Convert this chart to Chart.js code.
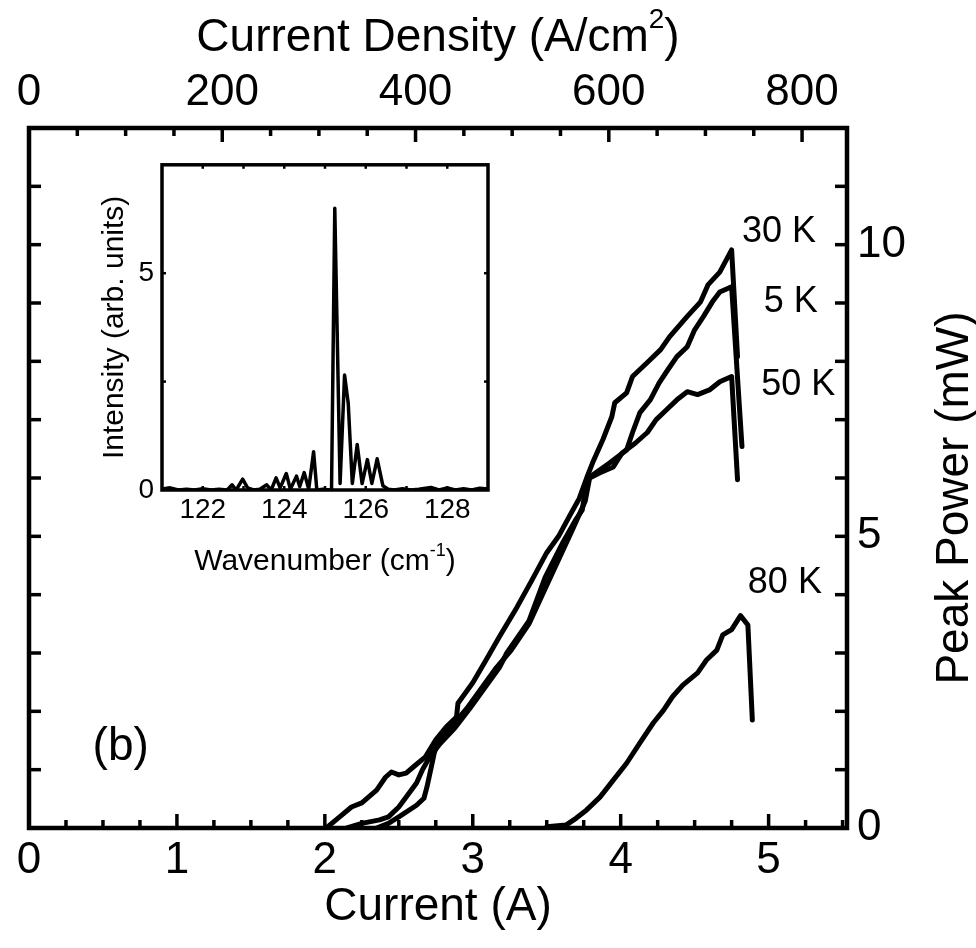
<!DOCTYPE html>
<html>
<head>
<meta charset="utf-8">
<script src="https://cdn.jsdelivr.net/npm/chart.js@4.4.1/dist/chart.umd.min.js"></script>
<style>
  html, body { margin: 0; padding: 0; background: #fff; }
  #wrap { position: relative; width: 976px; height: 948px; }
  #main { position: absolute; left: 0; top: 0; }
  #inset { position: absolute; left: 90px; top: 140px; }
</style>
</head>
<body>
<div id="wrap">
  <canvas id="main" width="976" height="948"></canvas>
  <canvas id="inset" width="410" height="450"></canvas>
</div>
<script>
// ---- data: peak power (mW) vs current (A) ----
const cur5K = [2.15,2.25,2.37,2.43,2.50,2.55,2.62,2.66,2.71,2.78,2.88,2.98,3.08,3.18,3.23,3.38,3.49,3.61,3.70,3.74,3.77,3.81,3.92,4.04,4.08,4.13,4.20,4.26,4.32,4.38,4.45,4.50,4.56,4.62,4.67,4.75,4.82];
const pow5K = [0,0.08,0.14,0.19,0.36,0.53,0.77,1.0,1.22,1.45,1.72,2.05,2.40,2.75,3.0,3.55,4.30,4.90,5.30,5.45,5.95,6.05,6.25,6.48,6.78,7.12,7.34,7.63,7.86,8.08,8.25,8.54,8.77,9.02,9.19,9.28,6.54];

const cur30K = [2.01,2.10,2.18,2.25,2.35,2.41,2.45,2.50,2.55,2.60,2.68,2.75,2.82,2.89,2.90,3.00,3.09,3.18,3.30,3.40,3.50,3.58,3.65,3.72,3.77,3.81,3.88,3.94,3.96,4.04,4.08,4.18,4.27,4.33,4.45,4.54,4.59,4.67,4.75,4.79];
const pow30K = [0,0.19,0.36,0.43,0.65,0.87,0.96,0.91,0.94,1.05,1.22,1.51,1.73,1.90,2.14,2.49,2.88,3.28,3.79,4.25,4.72,5.0,5.33,5.65,6.0,6.26,6.66,7.05,7.29,7.46,7.74,7.98,8.20,8.42,8.77,9.02,9.31,9.53,9.91,8.08];

const cur50K = [2.35,2.43,2.50,2.62,2.67,2.69,2.72,2.74,2.77,2.86,2.96,3.06,3.16,3.26,3.38,3.48,3.58,3.68,3.76,3.79,3.86,3.95,4.01,4.10,4.18,4.24,4.31,4.38,4.45,4.52,4.60,4.67,4.75,4.79];
const pow50K = [0,0.08,0.19,0.39,0.51,0.70,1.05,1.29,1.51,1.75,2.05,2.40,2.75,3.05,3.50,4.05,4.60,5.15,5.60,6.0,6.09,6.19,6.43,6.60,6.78,7.00,7.17,7.34,7.48,7.43,7.51,7.65,7.74,5.97];

const cur80K = [3.50,3.63,3.70,3.77,3.86,3.95,4.04,4.13,4.22,4.29,4.35,4.42,4.52,4.58,4.65,4.69,4.75,4.81,4.86,4.89];
const pow80K = [0.02,0.05,0.17,0.31,0.53,0.82,1.11,1.46,1.80,2.02,2.25,2.45,2.66,2.88,3.05,3.31,3.40,3.64,3.48,1.85];

// ---- inset: emission spectrum ----
const wavenumber = [121.0,121.2,121.4,121.6,121.8,122.0,122.2,122.4,122.6,122.72,122.82,122.98,123.1,123.25,123.4,123.57,123.68,123.8,123.9,124.05,124.15,124.3,124.38,124.49,124.6,124.72,124.8,124.95,125.1,125.16,125.24,125.37,125.48,125.57,125.67,125.79,125.91,126.04,126.15,126.28,126.42,126.55,126.7,126.9,127.1,127.3,127.6,127.8,128.0,128.2,128.4,128.6,128.8,129.0];
const intensity  = [0.02,0.05,0.0,0.02,0.0,0.03,0.0,0.02,0.0,0.12,0.0,0.25,0.05,0.0,0.02,0.12,0.0,0.28,0.05,0.38,0.02,0.32,0.08,0.40,0.02,0.88,0.0,0.02,0.0,0.0,6.5,0.15,2.65,2.0,0.15,1.05,0.15,0.70,0.15,0.72,0.10,0.02,0.0,0.03,0.0,0.02,0.06,0.0,0.05,0.0,0.03,0.0,0.04,0.02];

// ---- tick labels ----
const currentTicks = [0, 1, 2, 3, 4, 5];
const densityTicks = [0, 200, 400, 600, 800];
const powerTicks   = [0, 5, 10];
const waveTicks    = [122, 124, 126, 128];
const intenTicks   = [0, 5];

// curve labels (text, anchored in data units)
const curveLabels = [
  { text: '30 K', x: 5.07, y: 10.22 },
  { text: '5 K',  x: 5.15, y: 9.02 },
  { text: '50 K', x: 5.20, y: 7.59 },
  { text: '80 K', x: 5.11, y: 4.20 }
];

const FONT = "'Liberation Sans', Arial, sans-serif";

const pts = (xs, ys) => xs.map((x, i) => ({ x, y: ys[i] }));

const lineDs = (label, xs, ys, w) => ({
  label,
  data: pts(xs, ys),
  showLine: true,
  borderColor: '#000',
  borderWidth: w,
  pointRadius: 0,
  tension: 0,
  fill: false,
  borderJoinStyle: 'round',
  borderCapStyle: 'round'
});

// text with superscript parts: [[text, isSup], ...]
const drawParts = (ctx, parts, cx, cy, size) => {
  const supSize = Math.round(size * 0.6);
  let total = 0;
  parts.forEach(([t, sup]) => {
    ctx.font = `${sup ? supSize : size}px ${FONT}`;
    total += ctx.measureText(t).width;
  });
  let x = cx - total / 2;
  ctx.textAlign = 'left';
  ctx.textBaseline = 'middle';
  parts.forEach(([t, sup]) => {
    ctx.font = `${sup ? supSize : size}px ${FONT}`;
    ctx.fillText(t, x, sup ? cy - size * 0.38 : cy);
    x += ctx.measureText(t).width;
  });
};

// inward tick marks along one edge of the chart area
const drawTicks = (ctx, scale, side, a, lenFn) => {
  scale.ticks.forEach(t => {
    const p = scale.getPixelForValue(t.value);
    const len = lenFn(t.value);
    ctx.beginPath();
    if (side === 'bottom') { if (p <= a.left + 1 || p >= a.right - 1) return; ctx.moveTo(p, a.bottom); ctx.lineTo(p, a.bottom - len); }
    if (side === 'top')    { if (p <= a.left + 1 || p >= a.right - 1) return; ctx.moveTo(p, a.top); ctx.lineTo(p, a.top + len); }
    if (side === 'left')   { if (p <= a.top + 1 || p >= a.bottom - 1) return; ctx.moveTo(a.left, p); ctx.lineTo(a.left + len, p); }
    if (side === 'right')  { if (p <= a.top + 1 || p >= a.bottom - 1) return; ctx.moveTo(a.right, p); ctx.lineTo(a.right - len, p); }
    ctx.stroke();
  });
};

// ---- main chart ----
const mainDecor = {
  id: 'mainDecor',
  afterDraw(chart) {
    const { ctx, chartArea: a, scales } = chart;
    ctx.save();
    ctx.strokeStyle = '#000';
    ctx.fillStyle = '#000';
    ctx.lineCap = 'butt';
    ctx.lineWidth = 3.5;
    drawTicks(ctx, scales.x, 'bottom', a, v => Number.isInteger(v) ? 14 : 8);
    drawTicks(ctx, scales.x2, 'top', a, v => v % 200 === 0 ? 14 : 8);
    drawTicks(ctx, scales.y, 'left', a, () => 12);
    drawTicks(ctx, scales.y2, 'right', a, () => 12);
    ctx.lineWidth = 4.5;
    ctx.strokeRect(a.left, a.top, a.right - a.left, a.bottom - a.top);

    // axis titles
    drawParts(ctx, [['Current Density (A/cm', false], ['2', true], [')', false]], (a.left + a.right) / 2, 38, 46);
    drawParts(ctx, [['Current (A)', false]], (a.left + a.right) / 2, 907, 46);
    ctx.save();
    ctx.translate(955, 498);
    ctx.rotate(-Math.PI / 2);
    drawParts(ctx, [['Peak Power (mW)', false]], 0, 0, 46);
    ctx.restore();

    // curve labels
    ctx.font = `36px ${FONT}`;
    ctx.textAlign = 'center';
    ctx.textBaseline = 'middle';
    curveLabels.forEach(l => {
      ctx.fillText(l.text, scales.x.getPixelForValue(l.x), scales.y.getPixelForValue(l.y));
    });
    ctx.font = `46px ${FONT}`;
    ctx.fillText('(b)', scales.x.getPixelForValue(0.62), scales.y.getPixelForValue(1.38));
    ctx.restore();
  }
};

const tickFont = { family: FONT, size: 44 };

new Chart(document.getElementById('main'), {
  type: 'scatter',
  data: {
    datasets: [
      lineDs('5 K', cur5K, pow5K, 5),
      lineDs('30 K', cur30K, pow30K, 5),
      lineDs('50 K', cur50K, pow50K, 5),
      lineDs('80 K', cur80K, pow80K, 5)
    ]
  },
  options: {
    responsive: false,
    animation: false,
    devicePixelRatio: 1,
    layout: { padding: 0 },
    plugins: { legend: { display: false }, tooltip: { enabled: false } },
    scales: {
      x: {
        type: 'linear', position: 'bottom', min: 0, max: 5.53,
        grid: { display: false, drawTicks: false }, border: { display: false },
        ticks: {
          stepSize: 0.25, autoSkip: false, maxRotation: 0, minRotation: 0, includeBounds: false,
          padding: 6, color: '#000', font: tickFont,
          callback: v => currentTicks.includes(v) ? String(v) : ''
        },
        afterFit: s => { s.height = 120; }
      },
      x2: {
        type: 'linear', position: 'top', min: 0, max: 846.5,
        grid: { display: false, drawTicks: false }, border: { display: false },
        ticks: {
          stepSize: 50, autoSkip: false, maxRotation: 0, minRotation: 0, includeBounds: false,
          padding: 9, color: '#000', font: tickFont,
          callback: v => densityTicks.includes(v) ? String(v) : ''
        },
        afterFit: s => { s.height = 128; }
      },
      y: {
        type: 'linear', position: 'left', min: 0, max: 12,
        grid: { display: false, drawTicks: false }, border: { display: false },
        ticks: { stepSize: 1, display: false, autoSkip: false, includeBounds: false },
        afterFit: s => { s.width = 29; }
      },
      y2: {
        type: 'linear', position: 'right', min: 0, max: 12,
        grid: { display: false, drawTicks: false }, border: { display: false },
        ticks: {
          stepSize: 1, autoSkip: false, includeBounds: false,
          padding: 10, color: '#000', font: tickFont,
          callback: v => powerTicks.includes(v) ? String(v) : ''
        },
        afterFit: s => { s.width = 129; }
      }
    }
  },
  plugins: [mainDecor]
});

// ---- inset chart ----
const insetDecor = {
  id: 'insetDecor',
  afterDraw(chart) {
    const { ctx, chartArea: a, scales } = chart;
    ctx.save();
    ctx.strokeStyle = '#000';
    ctx.fillStyle = '#000';
    ctx.lineWidth = 2.5;
    drawTicks(ctx, scales.x, 'bottom', a, () => 4);
    drawTicks(ctx, scales.x, 'top', a, () => 4);
    drawTicks(ctx, scales.y, 'left', a, () => 4);
    drawTicks(ctx, scales.y, 'right', a, () => 4);
    ctx.lineWidth = 3.5;
    ctx.strokeRect(a.left, a.top, a.right - a.left, a.bottom - a.top);

    drawParts(ctx, [['Wavenumber (cm', false], ['-1', true], [')', false]], (a.left + a.right) / 2, 422, 30);
    ctx.save();
    ctx.translate(25, (a.top + a.bottom) / 2);
    ctx.rotate(-Math.PI / 2);
    drawParts(ctx, [['Intensity (arb. units)', false]], 0, 0, 30);
    ctx.restore();
    ctx.restore();
  }
};

const insetFont = { family: FONT, size: 28 };

new Chart(document.getElementById('inset'), {
  type: 'scatter',
  data: { datasets: [lineDs('spectrum', wavenumber, intensity, 3.5)] },
  options: {
    responsive: false,
    animation: false,
    devicePixelRatio: 1,
    layout: { padding: { top: 22, right: 12, left: 0, bottom: 0 } },
    plugins: { legend: { display: false }, tooltip: { enabled: false } },
    scales: {
      x: {
        type: 'linear', position: 'bottom', min: 121, max: 129,
        grid: { display: false, drawTicks: false }, border: { display: false },
        ticks: {
          stepSize: 1, autoSkip: false, maxRotation: 0, minRotation: 0, includeBounds: false,
          padding: 3, color: '#000', font: insetFont,
          callback: v => waveTicks.includes(v) ? String(v) : ''
        },
        afterFit: s => { s.height = 100; }
      },
      y: {
        type: 'linear', position: 'left', min: 0, max: 7.5,
        grid: { display: false, drawTicks: false }, border: { display: false },
        ticks: {
          stepSize: 2.5, autoSkip: false, includeBounds: false,
          padding: 8, color: '#000', font: insetFont,
          callback: v => intenTicks.includes(v) ? String(v) : ''
        },
        afterFit: s => { s.width = 72; }
      }
    }
  },
  plugins: [insetDecor]
});
</script>
</body>
</html>
